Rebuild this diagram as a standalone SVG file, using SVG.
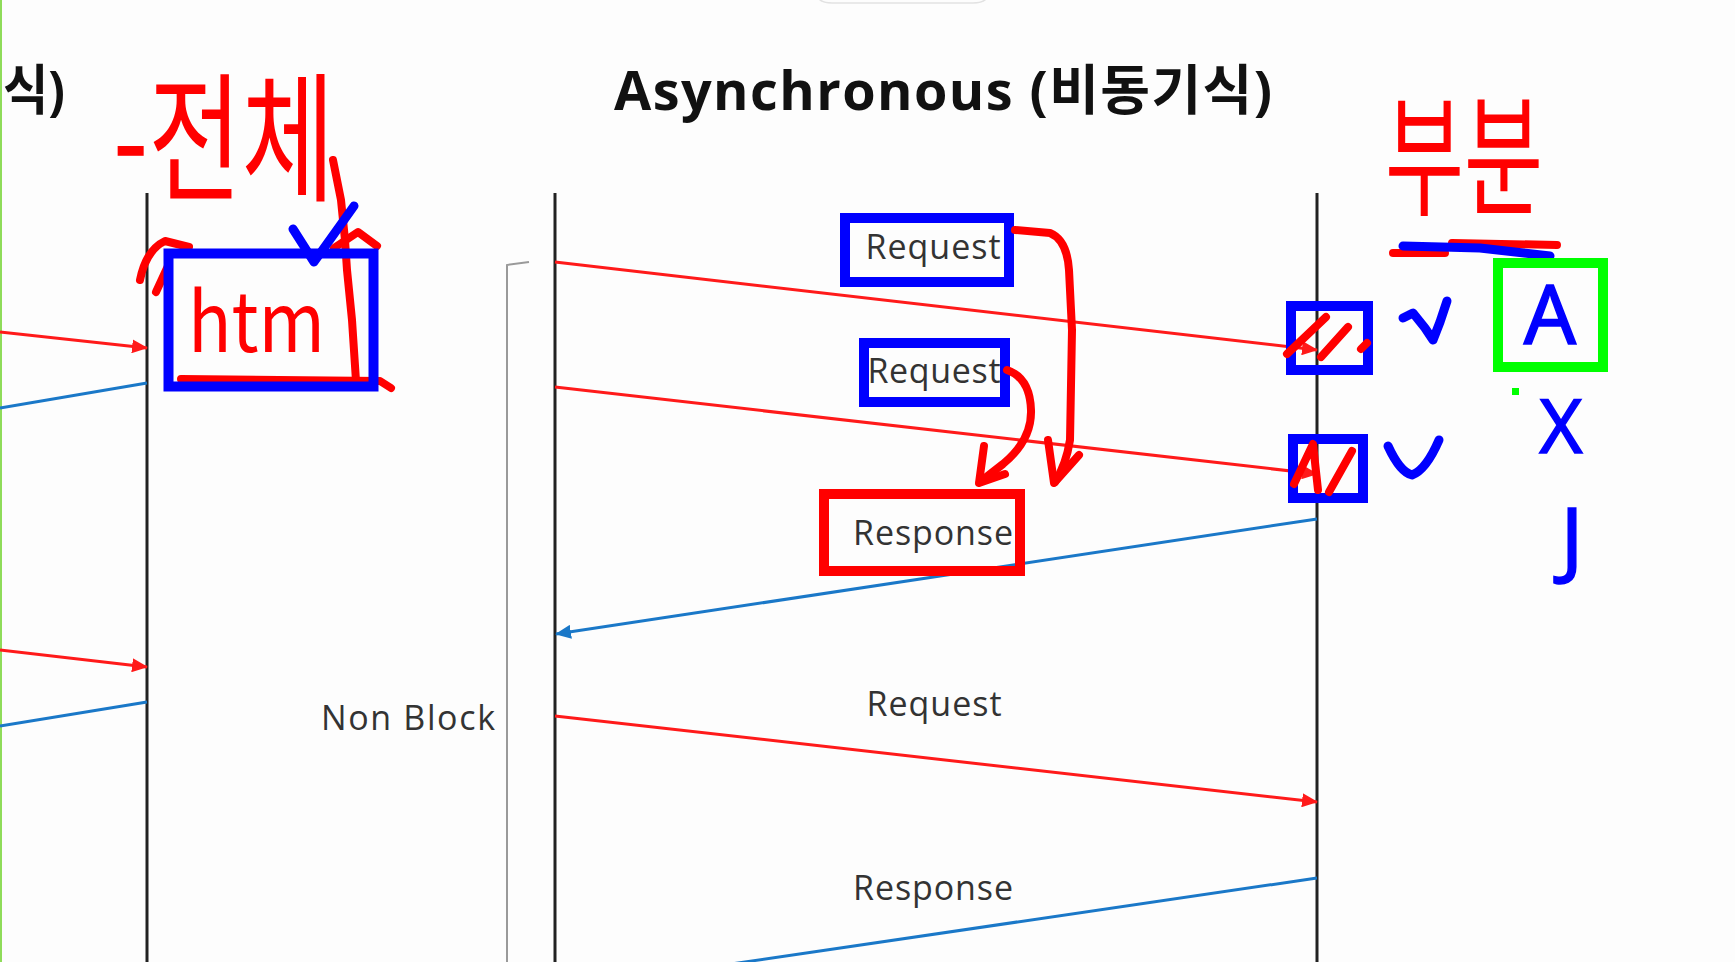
<svg xmlns="http://www.w3.org/2000/svg" width="1735" height="962" viewBox="0 0 1735 962">
<defs>
<style>
.life{stroke:#222;stroke-width:3;fill:none}
.req{stroke:#ff1a1a;stroke-width:3;fill:none}
.res{stroke:#1a78c8;stroke-width:3;fill:none}
.lbl{font-family:"Open Sans","Noto Sans",sans-serif;font-size:34px;fill:#333}
.title{font-family:"Open Sans","Noto Sans CJK KR",sans-serif;font-size:54px;font-weight:700;fill:#111}
.pen-r{stroke:#ff0000;stroke-width:8;fill:none;stroke-linecap:round;stroke-linejoin:round}
.pen-b{stroke:#0000ff;stroke-width:9;fill:none;stroke-linecap:round;stroke-linejoin:round}
.box-b{stroke:#0000ff;stroke-width:10;fill:none}
.box-r{stroke:#ff0000;stroke-width:10;fill:none}
.box-g{stroke:#00ff00;stroke-width:10;fill:none}
.hw-r{font-family:"Noto Sans CJK KR","Noto Sans",sans-serif;fill:#ff0000}
.hw-b{font-family:"Noto Sans","Noto Sans CJK KR",sans-serif;fill:#0000ff;stroke:#0000ff;stroke-width:1.5}
</style>
<marker id="ahR" markerUnits="userSpaceOnUse" markerWidth="16" markerHeight="14" refX="15" refY="7" orient="auto"><path d="M0,0 L16,7 L0,14 z" fill="#ff1a1a"/></marker>
<marker id="ahB" markerUnits="userSpaceOnUse" markerWidth="16" markerHeight="14" refX="15" refY="7" orient="auto"><path d="M0,0 L16,7 L0,14 z" fill="#1a78c8"/></marker>
</defs>
<rect width="1735" height="962" fill="#fdfdfd"/>
<line x1="1" y1="0" x2="1" y2="962" stroke="#8fdc5a" stroke-width="2"/>
<path d="M818,-2 Q822,3 832,3 L973,3 Q983,3 987,-2" fill="none" stroke="#e2e2e2" stroke-width="1.5"/>

<g id="titles">
<text class="title" x="3" y="110" textLength="62" lengthAdjust="spacingAndGlyphs">식)</text>
<text class="title" x="614" y="110" textLength="658">Asynchronous (비동기식)</text>
</g>

<g id="lifelines">
<line id="sync-client" class="life" x1="147" y1="193" x2="147" y2="962"/>
<line id="async-client" class="life" x1="555" y1="193" x2="555" y2="962"/>
<line id="async-server" class="life" x1="1317" y1="193" x2="1317" y2="962"/>
<path id="nonblock-bracket" d="M529,262 L507,265 L507,962" fill="none" stroke="#9a9a9a" stroke-width="2"/>
</g>

<g id="connectors">
<path class="req" d="M0,332 L147,348" marker-end="url(#ahR)"/>
<path class="res" d="M147,383 L0,408"/>
<path class="req" d="M0,650 L147,667" marker-end="url(#ahR)"/>
<path class="res" d="M147,702 L0,726"/>
<path class="req" d="M555,262 L1317,350" marker-end="url(#ahR)"/>
<path class="req" d="M555,387 L1317,474" marker-end="url(#ahR)"/>
<path class="res" d="M1317,519 L556,634" marker-end="url(#ahB)"/>
<path class="req" d="M555,716 L1317,802" marker-end="url(#ahR)"/>
<path class="res" d="M1317,878 L554,990"/>
</g>

<g id="labels">
<text id="lbl-nonblock" class="lbl" x="321" y="730" textLength="174">Non Block</text>
<text id="lbl-req1" class="lbl" x="933" y="259" text-anchor="middle" textLength="135">Request</text>
<text id="lbl-req2" class="lbl" x="934" y="383" text-anchor="middle" textLength="133">Request</text>
<text id="lbl-res1" class="lbl" x="933" y="545" text-anchor="middle" textLength="160">Response</text>
<text id="lbl-req3" class="lbl" x="934" y="716" text-anchor="middle" textLength="135">Request</text>
<text id="lbl-res2" class="lbl" x="933" y="900" text-anchor="middle" textLength="160">Response</text>
</g>

<g id="annot-left">
<text class="hw-r" transform="translate(113,190) scale(1,1.4)" font-size="100" textLength="222" lengthAdjust="spacingAndGlyphs">-전체</text>
<path class="pen-r" d="M333,160 L341,200 L345,240 L347,270 L352,320 L356,381"/>
<path class="pen-r" d="M140,280 Q146,250 165,241 L189,247"/>
<path class="pen-r" d="M156,292 L168,266"/>
<path class="pen-r" d="M334,248 L358,232 L377,246"/>
<path class="pen-r" d="M181,379 L380,381 L391,388"/>
<rect class="box-b" x="168.5" y="253.5" width="205" height="133" stroke-width="11"/>
<text class="hw-r" x="188" y="352" font-size="82" textLength="137" lengthAdjust="spacingAndGlyphs" font-family="Noto Sans, sans-serif">htm</text>
<path class="pen-b" d="M293,229 L314,262 L354,206"/>
</g>

<g id="annot-boxes">
<rect class="box-b" x="845" y="218" width="164" height="64"/>
<rect class="box-b" x="864" y="343" width="141" height="59"/>
<rect class="box-r" x="824" y="494" width="196" height="77"/>
<path class="pen-r" d="M1015,230 L1050,233 Q1067,240 1069,270 L1072,330 L1070,440 Q1066,465 1055,482"/>
<path class="pen-r" d="M1048,440 L1054,483 L1079,455"/>
<path class="pen-r" d="M1007,370 Q1030,378 1031,410 Q1032,440 1003,464 L980,482"/>
<path class="pen-r" d="M984,446 L979,483 L1005,474"/>
</g>

<g id="annot-right">
<rect class="box-b" x="1291" y="306" width="77" height="64"/>
<rect class="box-b" x="1293" y="439" width="70" height="59"/>
<path class="pen-r" d="M1287,354 L1326,317"/>
<path class="pen-r" d="M1321,357 L1348,327"/>
<path class="pen-r" d="M1361,349 L1367,343"/>
<path class="pen-r" d="M1294,484 L1313,444 L1318,490"/>
<path class="pen-r" d="M1329,492 L1352,451"/>
<path class="pen-b" d="M1403,318 L1413,313 L1425,328 L1433,340 L1440,322 L1447,301"/>
<path class="pen-b" d="M1388,446 Q1400,472 1412,475 Q1426,470 1439,440"/>
<text class="hw-r" transform="translate(1385,205) scale(1,1.5)" font-size="88" textLength="158" lengthAdjust="spacingAndGlyphs">부분</text>
<path class="pen-r" d="M1393,253 L1445,253 M1452,243 L1557,245"/>
<path class="pen-b" d="M1403,246 L1480,248 L1550,256"/>
<rect class="box-g" x="1498" y="263" width="105" height="104"/>
<text class="hw-b" x="1550" y="344" font-size="82" text-anchor="middle">A</text>
<rect x="1512" y="388" width="7" height="7" fill="#00ff00"/>
<text class="hw-b" x="1561" y="453" font-size="74" text-anchor="middle">X</text>
<text class="hw-b" x="1572" y="568" font-size="84" text-anchor="middle">J</text>
</g>
</svg>
